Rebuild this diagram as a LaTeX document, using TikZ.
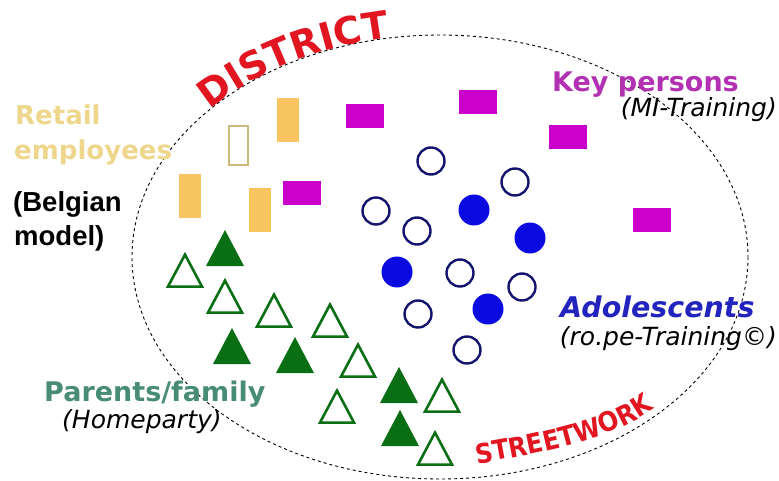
\documentclass[tikz,border=0pt]{standalone}
\usepackage{fontspec}
\setmainfont{DejaVu Sans}
\newfontfamily\arialfont{Liberation Sans}
\newfontfamily\narrowfont{DejaVu Sans Condensed}
\usetikzlibrary{decorations.text}

\definecolor{districtred}{RGB}{226,22,32}
\definecolor{retailtan}{RGB}{238,214,140}
\definecolor{shopfill}{RGB}{248,196,96}
\definecolor{shopedge}{RGB}{206,186,120}
\definecolor{keyfill}{RGB}{204,0,204}
\definecolor{keytext}{RGB}{178,48,178}
\definecolor{teenfill}{RGB}{10,10,225}
\definecolor{teenedge}{RGB}{20,20,110}
\definecolor{teentext}{RGB}{35,35,190}
\definecolor{homegreen}{RGB}{10,110,20}
\definecolor{hometext}{RGB}{72,140,118}

\begin{document}
\begin{tikzpicture}[x=1pt,y=-1pt,
  shopbox/.style={fill=shopfill, minimum width=22pt, minimum height=44pt, inner sep=0pt},
  shopempty/.style={draw=shopedge, line width=2pt, minimum width=19pt, minimum height=39pt, inner sep=0pt},
  keybox/.style={fill=keyfill, minimum width=38pt, minimum height=24pt, inner sep=0pt},
  teenring/.style={circle, draw=teenedge, line width=2.4pt, minimum size=27pt, inner sep=0pt},
  teendot/.style={circle, fill=teenfill, minimum size=31pt, inner sep=0pt},
  label/.style={anchor=base west, inner sep=0pt},
  sublabel/.style={anchor=base east, inner sep=0pt, font=\itshape\fontsize{25}{30}\selectfont}]

\useasboundingbox (0,0) rectangle (779,481);

% district
\draw[dashed, line width=0.9pt] (440,257) ellipse [x radius=308, y radius=222];
\path[decorate, decoration={text along path, text align=center, text color=districtred,
    text={|\bfseries\fontsize{38}{42}\selectfont|DISTRICT}}]
  (440,257) ++(220:308 and 222) arc[start angle=220, end angle=262, x radius=308, y radius=222];
\path[decorate, decoration={text along path, text align=left, text color=districtred,
    text={|\narrowfont\bfseries\fontsize{27}{32}\selectfont|STREETWORK}}]
  (477,464) .. controls (545,452) and (620,440) .. (668,398);

% retail employees
\node[shopbox] (shop1) at (288,120) {};
\node[shopempty] (shop2) at (238,146) {};
\node[shopbox] (shop3) at (190,196) {};
\node[shopbox] (shop4) at (260,210) {};

% key persons
\foreach \x/\y [count=\i] in {365/116, 302/193, 478/102, 568/137, 652/220}
  \node[keybox] (key\i) at (\x,\y) {};

% adolescents
\foreach \x/\y [count=\i] in {376/211, 431/161, 515/182, 417/231, 460/273, 522/287, 418/314, 467/350}
  \node[teenring] (ring\i) at (\x,\y) {};
\foreach \x/\y [count=\i] in {474/210, 530/238, 397/272, 488/309}
  \node[teendot] (dot\i) at (\x,\y) {};

% parents
\foreach \x/\y in {225/230, 232/328, 295/337, 399/367, 400/410}
  \fill[homegreen] (\x,\y) -- ++(-19,36) -- ++(38,0) -- cycle;
\foreach \x/\y in {185/252, 225/278, 274/292, 330/302, 358/342, 337/388, 442/377, 435/430}
  \draw[homegreen, line width=2.6pt] (\x,\y+2.6) -- ++(-17,32) -- ++(34,0) -- cycle;

% labels
\node[label, text=retailtan, font=\bfseries\fontsize{26}{30}\selectfont] (retail) at (15,125) {Retail};
\node[label, text=retailtan, font=\bfseries\fontsize{26}{30}\selectfont] (employees) at (14,160) {employees};
\node[label, font=\arialfont\bfseries\fontsize{27.5}{30}\selectfont] (belgian) at (13,212) {(Belgian};
\node[label, font=\arialfont\bfseries\fontsize{27.5}{30}\selectfont] (model) at (14,245) {model)};
\node[label, text=keytext, font=\bfseries\fontsize{27}{30}\selectfont] (keyp) at (552,92) {Key persons};
\node[sublabel] (mitrain) at (777,117) {(MI-Training)};
\node[label, text=teentext, font=\bfseries\itshape\fontsize{28.5}{32}\selectfont] (teens) at (560,317) {Adolescents};
\node[sublabel] (rope) at (777,345) {(ro.pe-Training©)};
\node[label, text=hometext, font=\bfseries\fontsize{27}{30}\selectfont] (parents) at (44,401) {Parents/family};
\node[label, font=\itshape\fontsize{25}{30}\selectfont] (homeparty) at (62,428) {(Homeparty)};

\end{tikzpicture}
\end{document}
